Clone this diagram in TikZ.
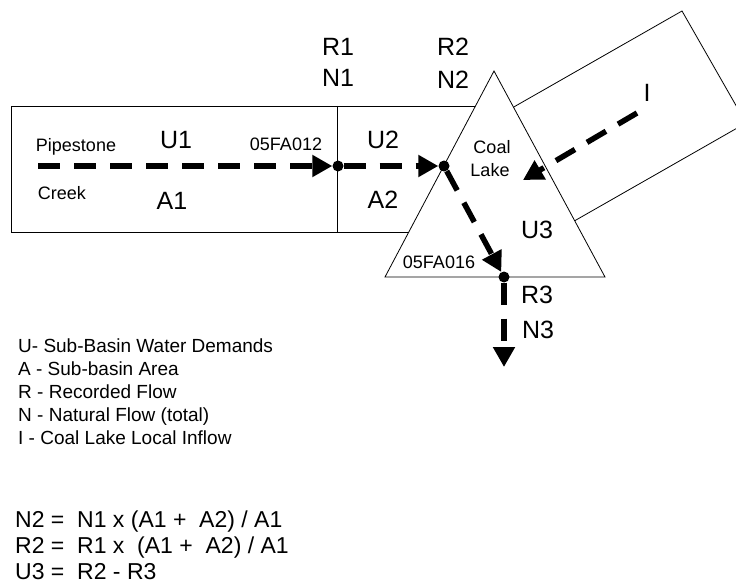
\documentclass[tikz,border=0pt]{standalone}
\usepackage{fontspec}
\setmainfont{Liberation Sans}
\usetikzlibrary{arrows.meta}
\begin{document}
\begin{tikzpicture}[x=1pt,y=-1pt,
  outline/.style={draw=black,line width=0.8pt},
  flow/.style={line width=5.5pt,dash pattern=on 22pt off 14pt,-{Triangle[length=20pt,width=21pt]}},
  junction/.style={circle,fill=black,inner sep=0pt,minimum size=11pt},
  biglabel/.style={font=\fontsize{25}{27}\selectfont,inner sep=0pt},
  smalllabel/.style={font=\fontsize{18}{20}\selectfont,inner sep=0pt},
  legend/.style={font=\fontsize{19}{21}\selectfont,inner sep=0pt,anchor=base west},
  eqn/.style={font=\fontsize{23}{25}\selectfont,inner sep=0pt,anchor=base west}]
\useasboundingbox (0,0) rectangle (736,583);
\clip (0,0) rectangle (736,583);
% local inflow sub-basin (rotated rectangle)
\draw[outline] (682,11) -- (746,123) -- (555,232) -- (491,120) -- cycle;
% Pipestone Creek sub-basins
\draw[outline] (11,106) rectangle (480,232);
\draw[outline] (337,106) -- (337,232);
% Coal Lake triangle
\draw[outline,fill=white] (494,71) -- (385,277) -- (605,277) -- cycle;
% junctions and coordinates
\node[junction] (j1) at (338,166) {};
\node[junction] (j2) at (444,166) {};
\node[junction] (j3) at (504,277) {};
\coordinate (s0) at (38,166);
\coordinate (e4) at (504,367);
\coordinate (iS) at (637,113);
\coordinate (iE) at (523,180);
% flows
\draw[flow] (s0) -- (j1);
\draw[flow] (j1) -- (j2);
\draw[flow] (j2) -- (j3);
\draw[flow] (j3) -- (e4);
\draw[flow] (iS) -- (iE);
% labels
\node[biglabel] (r1) at (338,47) {R1};
\node[biglabel] (n1) at (338,78) {N1};
\node[biglabel] (r2) at (453,47) {R2};
\node[biglabel] (n2) at (453,80) {N2};
\node[biglabel] (u1) at (176,140) {U1};
\node[biglabel] (a1) at (172,201) {A1};
\node[biglabel] (u2) at (383,140) {U2};
\node[biglabel] (a2) at (383,200) {A2};
\node[biglabel] (u3) at (537,230) {U3};
\node[biglabel] (r3) at (537,295) {R3};
\node[biglabel] (n3) at (538,330) {N3};
\node[biglabel] (il) at (647,93) {I};
\node[smalllabel] (pipe) at (76,147) {Pipestone};
\node[smalllabel] (creek) at (62,193) {Creek};
\node[smalllabel] (st1) at (286,144) {05FA012};
\node[smalllabel] (coal) at (492,147) {Coal};
\node[smalllabel] (lake) at (490,170) {Lake};
\node[smalllabel] (st2) at (439,262) {05FA016};
% legend
\node[legend] (l1) at (18,352) {U- Sub-Basin Water Demands};
\node[legend] (l2) at (18,375) {A - Sub-basin Area};
\node[legend] (l3) at (18,398) {R - Recorded Flow};
\node[legend] (l4) at (18,421) {N - Natural Flow (total)};
\node[legend] (l5) at (18,444) {I - Coal Lake Local Inflow};
% equations
\node[eqn] (q1) at (15,527) {N2 =\ \ N1 x (A1 +\ \ A2) / A1};
\node[eqn] (q2) at (15,553) {R2 =\ \ R1 x\ \ (A1 +\ \ A2) / A1};
\node[eqn] (q3) at (15,579) {U3 =\ \ R2 - R3};
\end{tikzpicture}
\end{document}
